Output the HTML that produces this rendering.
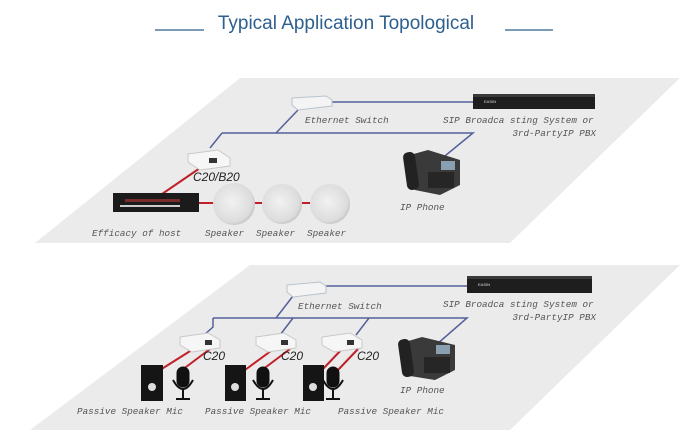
<!DOCTYPE html>
<html><head><meta charset="utf-8"><style>
html,body{margin:0;padding:0;background:#fff;}
svg{display:block}
.t{font-family:"Liberation Mono",monospace;font-style:italic;font-size:9.3px;fill:#555}
.c{font-family:"Liberation Sans",sans-serif;font-style:italic;font-size:12px;fill:#222}
</style></head><body>
<svg width="692" height="446" viewBox="0 0 692 446" xmlns="http://www.w3.org/2000/svg">
<defs>
<radialGradient id="sp" cx="45%" cy="45%" r="60%"><stop offset="0" stop-color="#f2f2f2"/><stop offset="0.8" stop-color="#dcdcdc"/><stop offset="1" stop-color="#bdbdbd"/></radialGradient>
</defs>
<text x="346" y="29" text-anchor="middle" font-family="Liberation Sans,sans-serif" font-size="19" fill="#2d5f8f">Typical Application Topological</text>
<line x1="155" y1="30" x2="204" y2="30" stroke="#2d5f8f" stroke-width="1.3"/>
<line x1="505" y1="30" x2="553" y2="30" stroke="#2d5f8f" stroke-width="1.3"/>

<polygon points="240,78 680,78 510,243 35,243" fill="#ebebeb"/>
<polygon points="250,265 680,265 510,430 30,430" fill="#ebebeb"/>

<!-- TOP -->
<g stroke="#55609a" stroke-width="1.5" fill="none">
<polyline points="330,102 473,102"/>
<polyline points="298,110 276,133"/>
<polyline points="222,133 473,133 440,160"/>
<polyline points="222,133 210,148"/>
</g>
<g stroke="#c0202a" stroke-width="2" fill="none">
<line x1="203" y1="166" x2="162" y2="194"/>
<line x1="198" y1="203" x2="215" y2="203"/>
<line x1="253" y1="203" x2="262" y2="203"/>
<line x1="302" y1="203" x2="310" y2="203"/>
</g>
<polygon points="292,98 326,96 332,100 332,106 298,110 292,105" fill="#f4f4f4" stroke="#b9c3cc"/>
<rect x="473" y="94" width="122" height="15" fill="#1e1e1e"/>
<rect x="473" y="94" width="122" height="3" fill="#3a3a3a"/>
<text x="484" y="103" font-size="4" fill="#ddd" font-family="Liberation Sans">EASIN</text>
<polygon points="188,154 218,150 230,158 230,166 200,170 188,162" fill="#f6f6f6" stroke="#c8c8c8"/>
<rect x="209" y="158" width="8" height="5" fill="#333"/>
<rect x="113" y="193" width="86" height="19" fill="#1b1b1b"/>
<rect x="125" y="199" width="55" height="3" fill="#7a2a2a"/>
<rect x="120" y="205" width="60" height="2" fill="#ccc"/>
<g fill="url(#sp)">
<circle cx="234" cy="204" r="21"/><circle cx="282" cy="204" r="20"/><circle cx="330" cy="204" r="20"/>
</g>
<g>
<polygon points="410,155 428,150 460,160 460,185 440,195 415,190" fill="#3a3a3a"/>
<rect x="405" y="152" width="12" height="38" rx="5" fill="#222" transform="rotate(-8 411 171)"/>
<rect x="441" y="161" width="14" height="9" fill="#8aa0b0"/>
<rect x="428" y="172" width="26" height="16" fill="#262626"/>
</g>
<text class="t" x="305" y="123">Ethernet Switch</text>
<text class="t" x="443" y="123">SIP Broadca sting System or</text>
<text class="t" x="596" y="136" text-anchor="end">3rd-PartyIP PBX</text>
<text class="c" x="193" y="181">C20/B20</text>
<text class="t" x="92" y="236">Efficacy of host</text>
<text class="t" x="205" y="236">Speaker</text>
<text class="t" x="256" y="236">Speaker</text>
<text class="t" x="307" y="236">Speaker</text>
<text class="t" x="400" y="210">IP Phone</text>

<!-- BOTTOM -->
<g stroke="#55609a" stroke-width="1.5" fill="none">
<polyline points="325,286 467,286"/>
<polyline points="293,296 276,318"/>
<polyline points="213,318 467,318 436,345"/>
<polyline points="213,318 213,327 204,335"/>
<polyline points="293,318 280,335"/>
<polyline points="369,318 356,335"/>
</g>
<g stroke="#c0202a" stroke-width="2" fill="none">
<line x1="195" y1="348" x2="160" y2="370"/><line x1="210" y1="349" x2="182" y2="370"/>
<line x1="275" y1="348" x2="245" y2="370"/><line x1="290" y1="349" x2="262" y2="370"/>
<line x1="343" y1="348" x2="322" y2="370"/><line x1="358" y1="349" x2="338" y2="370"/>
</g>
<polygon points="287,285 320,282 326,286 326,293 293,297 287,292" fill="#f4f4f4" stroke="#b9c3cc"/>
<rect x="467" y="276" width="125" height="17" fill="#1e1e1e"/>
<rect x="467" y="276" width="125" height="3" fill="#3a3a3a"/>
<text x="478" y="286" font-size="4" fill="#ddd" font-family="Liberation Sans">EASIN</text>
<g fill="#f6f6f6" stroke="#c8c8c8">
<polygon points="180,337 208,333 220,340 220,348 192,352 180,345"/>
<polygon points="256,337 284,333 296,340 296,348 268,352 256,345"/>
<polygon points="322,337 350,333 362,340 362,348 334,352 322,345"/>
</g>
<g fill="#333"><rect x="205" y="340" width="7" height="5"/><rect x="281" y="340" width="7" height="5"/><rect x="347" y="340" width="7" height="5"/></g>
<g fill="#151515">
<rect x="141" y="365" width="22" height="36"/><rect x="225" y="365" width="21" height="36"/><rect x="303" y="365" width="21" height="36"/>
</g>
<g fill="#ddd"><circle cx="152" cy="387" r="4"/><circle cx="235" cy="387" r="4"/><circle cx="313" cy="387" r="4"/></g>
<g fill="#111" stroke="#111">
<rect x="177" y="367" width="12" height="20" rx="6"/><path d="M173,380 q10,18 20,0" fill="none" stroke-width="2"/><line x1="183" y1="389" x2="183" y2="399" stroke-width="2"/><line x1="176" y1="399" x2="190" y2="399" stroke-width="2"/>
<rect x="257" y="367" width="12" height="20" rx="6"/><path d="M253,380 q10,18 20,0" fill="none" stroke-width="2"/><line x1="263" y1="389" x2="263" y2="399" stroke-width="2"/><line x1="256" y1="399" x2="270" y2="399" stroke-width="2"/>
<rect x="327" y="367" width="12" height="20" rx="6"/><path d="M323,380 q10,18 20,0" fill="none" stroke-width="2"/><line x1="333" y1="389" x2="333" y2="399" stroke-width="2"/><line x1="326" y1="399" x2="340" y2="399" stroke-width="2"/>
</g>
<g>
<polygon points="405,342 422,337 455,345 455,370 435,380 410,376" fill="#3a3a3a"/>
<rect x="400" y="339" width="12" height="38" rx="5" fill="#222" transform="rotate(-8 406 358)"/>
<rect x="436" y="345" width="14" height="9" fill="#8aa0b0"/>
<rect x="424" y="357" width="26" height="16" fill="#262626"/>
</g>
<text class="t" x="298" y="309">Ethernet Switch</text>
<text class="t" x="443" y="307">SIP Broadca sting System or</text>
<text class="t" x="596" y="320" text-anchor="end">3rd-PartyIP PBX</text>
<text class="c" x="203" y="360">C20</text>
<text class="c" x="281" y="360">C20</text>
<text class="c" x="357" y="360">C20</text>
<text class="t" x="400" y="393">IP Phone</text>
<text class="t" x="77" y="414">Passive Speaker  Mic</text>
<text class="t" x="205" y="414">Passive Speaker  Mic</text>
<text class="t" x="338" y="414">Passive Speaker Mic</text>
</svg>
</body></html>
